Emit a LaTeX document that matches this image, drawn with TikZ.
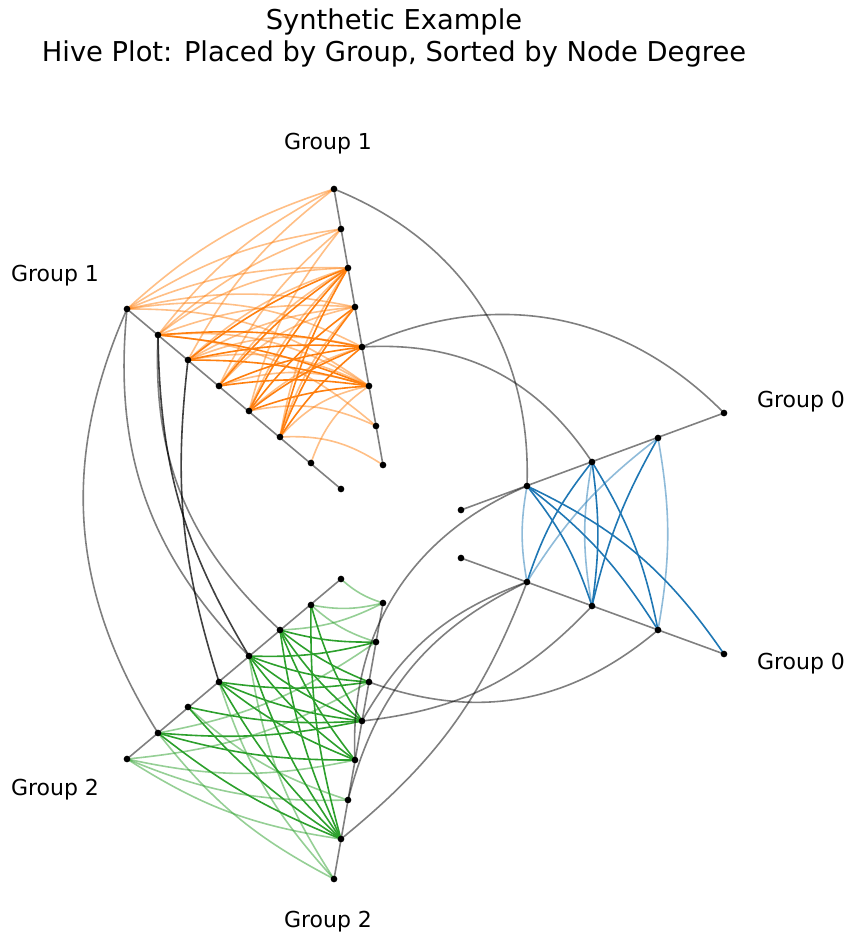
\documentclass[tikz,border=0pt]{standalone}
\usepackage{fontspec}
\setmainfont{DejaVu Sans}
\definecolor{tabor}{HTML}{FF7F0E}
\definecolor{tabgr}{HTML}{2CA02C}
\definecolor{tabbl}{HTML}{1F77B4}
\begin{document}
\begin{tikzpicture}[x=0.75pt,y=-0.75pt,
  dot/.style={circle,fill=black,inner sep=0pt,minimum size=5pt},
  axis/.style={draw=black!50,line width=1.2pt},
  grey/.style={draw=black,opacity=0.5,line width=1.2pt},
  dgrey/.style={draw=black,opacity=0.75,line width=1.2pt},
  oe/.style={draw=tabor,line width=1.2pt},
  loe/.style={draw=tabor,opacity=0.5,line width=1.2pt},
  ge/.style={draw=tabgr,line width=1.2pt},
  lge/.style={draw=tabgr,opacity=0.5,line width=1.2pt},
  be/.style={draw=tabbl,line width=1.2pt},
  lbe/.style={draw=tabbl,opacity=0.5,line width=1.2pt},
  lab/.style={font=\fontsize{16.5}{19}\selectfont}]
\useasboundingbox (0,0) rectangle (856,943);
\node[font=\fontsize{20.5}{24}\selectfont,align=center] (title) at (394,38) {Synthetic Example\\Hive Plot: Placed by Group, Sorted by Node Degree};
% nodes
\foreach \i/\x/\y in {1/461/510,2/527/486,3/592/462,4/658/438,5/724/413} \coordinate (G0u\i) at (\x,\y);
\foreach \i/\x/\y in {1/461/558,2/527/582,3/592/606,4/658/630,5/724/654} \coordinate (G0l\i) at (\x,\y);
\foreach \i/\x/\y in {1/383/465,2/376/426,3/369/386,4/362/347,5/355/307,6/348/268,7/341/229,8/334/189} \coordinate (G1r\i) at (\x,\y);
\foreach \i/\x/\y in {1/341/489,2/311/463,3/280/437,4/249/411,5/219/386,6/188/360,7/158/335,8/127/309} \coordinate (G1l\i) at (\x,\y);
\foreach \i/\x/\y in {1/341/579,2/311/605,3/280/630,4/249/656,5/219/682,6/188/707,7/158/733,8/127/759} \coordinate (G2u\i) at (\x,\y);
\foreach \i/\x/\y in {1/383/603,2/376/642,3/369/682,4/362/721,5/355/760,6/348/800,7/341/839,8/334/879} \coordinate (G2r\i) at (\x,\y);
% axes
\draw[axis] (G0u1) -- (G0u5); \draw[axis] (G0l1) -- (G0l5);
\draw[axis] (G1r1) -- (G1r8); \draw[axis] (G1l1) -- (G1l8);
\draw[axis] (G2u1) -- (G2u8); \draw[axis] (G2r1) -- (G2r8);
% orange edges
\foreach \a/\b in {8/4,8/3,7/6,7/2,6/4,6/3,5/5,4/2,3/3,3/1,2/3,7/3,5/3}
  \draw[loe] (G1l\a) to[bend left=18] (G1r\b);
\foreach \a/\b in {8/8,8/7,8/6,8/5,7/8,7/7,7/5,6/8,6/6,6/5,5/7,5/6,4/7,4/6,4/4,3/6,3/5}
  \draw[loe] (G1l\a) to[bend left=12] (G1r\b);
\foreach \a/\b in {7/4,7/3,6/4,6/3,5/6,5/4,5/3,4/6,4/5,4/4,4/3,3/6,3/5,3/4,6/6}
  \draw[oe] (G1l\a) to[bend left=8] (G1r\b);
% green edges
\foreach \a/\b in {8/3,8/5,8/6,8/7,7/2,7/8,6/6,3/1,2/1,2/2,1/1,5/8,4/8}
  \draw[lge] (G2u\a) to[bend right=12] (G2r\b);
\foreach \a/\b in {7/4,7/5,7/7,6/4,6/7,5/3,5/4,5/5,5/7,4/2,4/3,4/4,4/5,4/7,3/4,3/5,3/7,2/4,2/7,3/3,3/2}
  \draw[ge] (G2u\a) to[bend right=8] (G2r\b);
% blue edges
\draw[be] (G0u2) to[bend left=10] (G0l3);
\draw[be] (G0u2) to[bend left=10] (G0l4);
\draw[be] (G0u2) to[bend left=15] (G0l5);
\draw[lbe] (G0u2) to[bend right=10] (G0l2);
\draw[be] (G0u3) to[bend right=10] (G0l2);
\draw[lbe] (G0u3) to[bend right=10] (G0l3);
\draw[be] (G0u3) to[bend left=8] (G0l3);
\draw[be] (G0u3) to[bend left=10] (G0l4);
\draw[lbe] (G0u4) to[bend right=10] (G0l2);
\draw[be] (G0u4) to[bend right=8] (G0l3);
\draw[lbe] (G0u4) to[bend left=10] (G0l4);
% grey cross edges
\draw[grey] (G1r8) to[bend left=35] (G0u2);
\draw[grey] (G1r4) to[bend left=30] (G0u3);
\draw[grey] (G1r4) to[bend left=35] (G0u5);
\draw[grey] (G1l8) to[bend right=28] (G2u7);
\draw[grey] (G1l8) to[bend right=25] (G2u4);
\draw[grey] (G1l7) to[bend right=25] (G2u3);
\draw[dgrey] (G1l7) to[bend right=15] (G2u4);
\draw[dgrey] (G1l6) to[bend right=12] (G2u5);
\draw[grey] (G0l2) to[bend right=25] (G2r6);
\draw[grey] (G0l2) to[bend left=15] (G2r7);
\draw[grey] (G0l2) to[bend right=20] (G2r4);
\draw[grey] (G0l3) to[bend left=20] (G2r4);
\draw[grey] (G0l4) to[bend left=30] (G2r3);
\draw[grey] (G0u2) to[bend right=35] (G2r5);
% dots
\foreach \g in {G0u,G0l} \foreach \i in {1,...,5} \node[dot] (\g n\i) at (\g\i) {};
\foreach \g in {G1r,G1l,G2u,G2r} \foreach \i in {1,...,8} \node[dot] (\g n\i) at (\g\i) {};
% labels
\node[lab] (l1a) at (328,144) {Group 1};
\node[lab] (l1b) at (55,276) {Group 1};
\node[lab] (l0a) at (801,402) {Group 0};
\node[lab] (l0b) at (801,664) {Group 0};
\node[lab] (l2a) at (55,790) {Group 2};
\node[lab] (l2b) at (328,922) {Group 2};
\end{tikzpicture}
\end{document}
